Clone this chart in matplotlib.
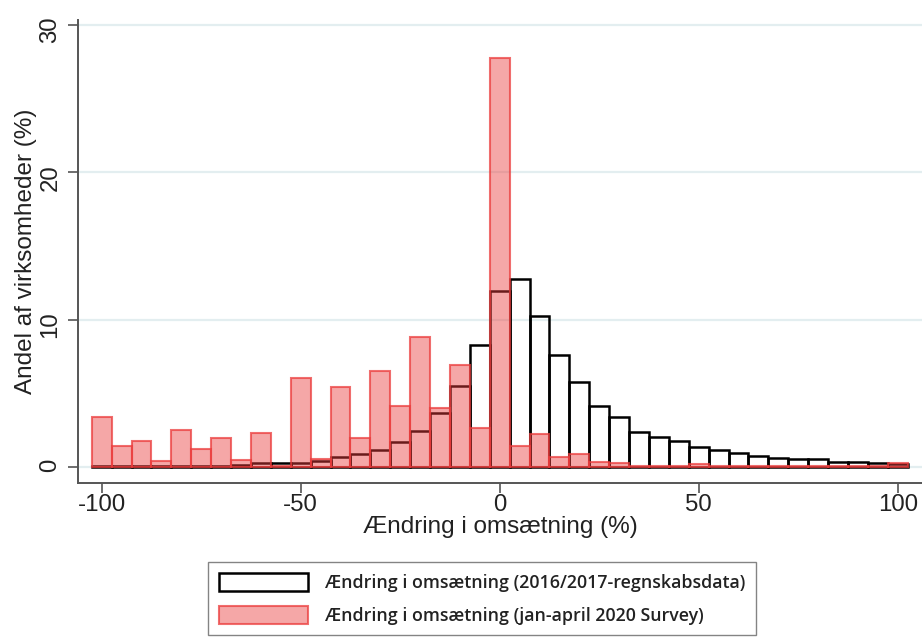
import matplotlib
matplotlib.use("Agg")
import matplotlib.pyplot as plt

# ---- data ----
bin_centers = list(range(-100, 101, 5))
share_2016_2017 = [0.10, 0.05, 0.05, 0.05, 0.05, 0.10, 0.10, 0.15, 0.25, 0.30,
                   0.30, 0.43, 0.66, 0.85, 1.15, 1.67, 2.46, 3.64, 5.52, 8.28,
                   11.97, 12.76, 10.25, 7.60, 5.79, 4.16, 3.42, 2.35, 2.04, 1.79,
                   1.34, 1.15, 0.97, 0.77, 0.63, 0.54, 0.54, 0.36, 0.36, 0.25, 0.20]
share_2020_survey = [3.40, 1.43, 1.77, 0.43, 2.50, 1.20, 2.00, 0.47, 2.33, 0.05,
                     6.06, 0.54, 5.45, 2.00, 6.50, 4.14, 8.85, 4.03, 6.92, 2.63,
                     27.80, 1.43, 2.22, 0.66, 0.86, 0.36, 0.29, 0.07, 0.05, 0.05,
                     0.20, 0.05, 0.10, 0.10, 0.10, 0.05, 0.10, 0.05, 0.05, 0.05, 0.25]
x_ticks = [-100, -50, 0, 50, 100]
y_ticks = [0, 10, 20, 30]
legend_labels = ["Ændring i omsætning (2016/2017-regnskabsdata)",
                 "Ændring i omsætning (jan-april 2020 Survey)"]
x_label = "Ændring i omsætning (%)"
y_label = "Andel af virksomheder (%)"

plt.rcParams["font.family"] = ["Liberation Sans", "DejaVu Sans"]

W, H = 922, 637
fig = plt.figure(figsize=(W / 100, H / 100), dpi=100)
ax = fig.add_axes([78 / W, (H - 483) / H, 1 - 78 / W, (483 - 20) / H])
ax.set_xlim(-105.95, 106.1)
ax.set_ylim(-1.086, 30.35)

red_face = (0.92, 0.235, 0.235, 0.45)
red_edge = (0.92, 0.235, 0.235, 0.74)

b1 = ax.bar(bin_centers, share_2016_2017, width=5, facecolor="none",
            edgecolor="black", linewidth=1.8, zorder=2)
b2 = ax.bar(bin_centers, share_2020_survey, width=5, facecolor=red_face,
            edgecolor=red_edge, linewidth=1.5, zorder=3)

ax.set_axisbelow(True)
ax.yaxis.grid(True, color="#e3eef0", linewidth=1.6)
ax.xaxis.grid(False)

for s in ["top", "right"]:
    ax.spines[s].set_visible(False)
for s in ["left", "bottom"]:
    ax.spines[s].set_color("#555555")
    ax.spines[s].set_linewidth(1.4)

ax.set_xticks(x_ticks)
ax.set_yticks(y_ticks)
ax.tick_params(axis="both", colors="#555555", labelcolor="#222222",
               labelsize=17.3, length=7, width=1.2)
ax.tick_params(axis="x", pad=1.0)
ax.tick_params(axis="y", labelrotation=90, pad=5)
ax.set_xticklabels(["-100", "-50", "0", "50", "100"])

ax.set_xlabel(x_label, fontsize=17.5, color="#222222", labelpad=0)
ax.set_ylabel(y_label, fontsize=17.5, color="#222222", labelpad=1.5)

leg = fig.legend([b1, b2], legend_labels, loc="upper left",
                 bbox_to_anchor=(208 / W, 1 - 562 / H), borderaxespad=0,
                 frameon=True, fancybox=False, edgecolor="#666666",
                 prop={"family": ["Open Sans", "DejaVu Sans"], "weight": "semibold", "size": 12.8},
                 handlelength=5.05, handleheight=1.2, handletextpad=0.95,
                 labelspacing=0.78, borderpad=0.6, labelcolor="#222222")
leg.get_frame().set_linewidth(1.0)

fig.savefig("out.png", dpi=100, facecolor="white")
